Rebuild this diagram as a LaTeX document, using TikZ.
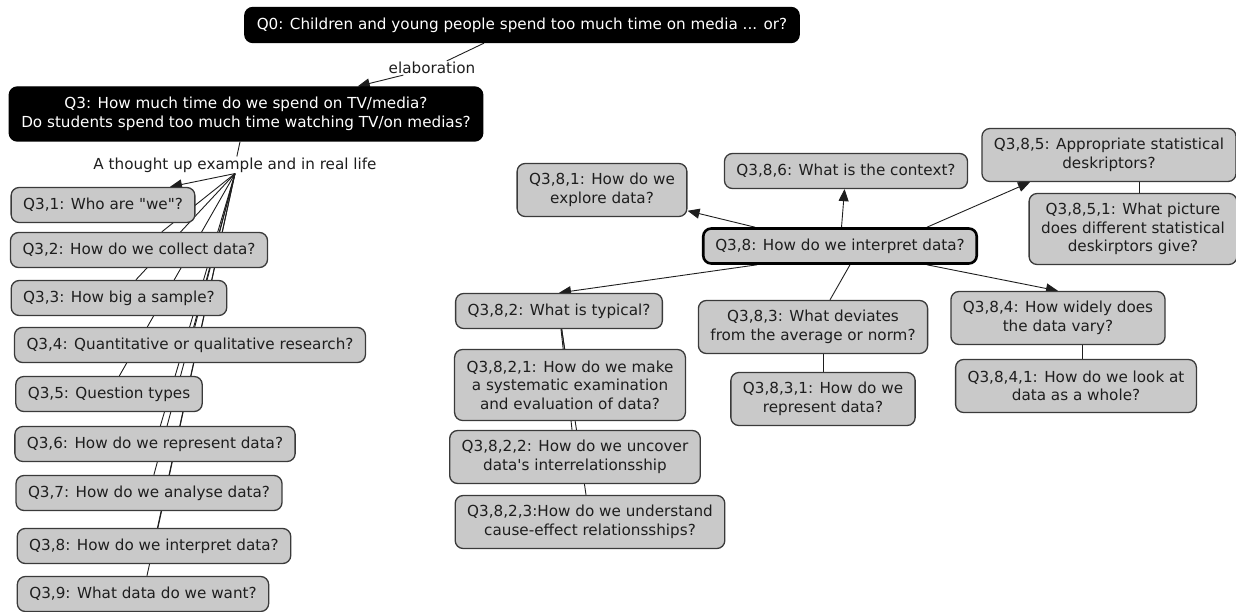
\documentclass[tikz,border=0pt]{standalone}
\usepackage{fontspec}
\setmainfont{DejaVu Sans}[Ligatures=TeXOff]
\usetikzlibrary{arrows.meta,backgrounds}
\definecolor{boxgray}{HTML}{C9C9C9}
\definecolor{boxline}{HTML}{3A3A3A}
\definecolor{txtgray}{HTML}{1E1E1E}

\begin{document}
\begin{tikzpicture}[
  x=1pt, y=-1pt,
  >={Triangle[length=12pt,width=10pt]},
  every node/.style={font=\fontsize{15.2}{18.5}\selectfont},
  concept/.style={draw=boxline,line width=1.3pt,fill=boxgray,text=txtgray,
                  rounded corners=8pt,inner xsep=12pt,inner ysep=1pt,
                  minimum height=35pt,align=center},
  twoline/.style={concept,minimum height=53pt},
  threeline/.style={concept,minimum height=71pt},
  topic/.style={concept,fill=black,draw=black,text=white},
  focus/.style={concept,draw=black,line width=2.6pt},
  linklbl/.style={inner sep=1pt,text=txtgray},
  link/.style={draw=txtgray,line width=0.9pt}
]
\useasboundingbox (0,0) rectangle (1236,612);

% top of the map
\node[topic]                    (q0) at (522,25) {Q0: Children and young people spend too much time on media ... or?};
\node[linklbl]                  (elab) at (432,68) {elaboration};
\node[topic,minimum height=54pt] (q3) at (246,114) {Q3: How much time do we spend on TV/media?\\Do students spend too much time watching TV/on medias?};
\node[linklbl]                  (thought) at (235,165) {A thought up example and in real life};

% left column
\node[concept] (q31)  at (103,205) {Q3,1: Who are "we"?};
\node[concept] (q32)  at (139,250) {Q3,2: How do we collect data?};
\node[concept] (q33)  at (119,298) {Q3,3: How big a sample?};
\node[concept] (q34)  at (190,345) {Q3,4: Quantitative or qualitative research?};
\node[concept] (q35)  at (109,394) {Q3,5: Question types};
\node[concept] (q36)  at (155,444) {Q3,6: How do we represent data?};
\node[concept] (q37)  at (149,493) {Q3,7: How do we analyse data?};
\node[concept] (q38l) at (154,546) {Q3,8: How do we interpret data?};
\node[concept] (q39)  at (143,594) {Q3,9: What data do we want?};

% interpreting data
\node[focus]     (q38)   at (840,246)  {Q3,8: How do we interpret data?};
\node[twoline]   (q381)  at (602,190)  {Q3,8,1: How do we\\explore data?};
\node[concept]   (q386)  at (846,171)  {Q3,8,6: What is the context?};
\node[twoline]   (q385)  at (1109,155) {Q3,8,5: Appropriate statistical\\deskriptors?};
\node[threeline] (q3851) at (1133,229) {Q3,8,5,1: What picture\\does different statistical\\deskirptors give?};
\node[twoline]   (q384)  at (1058,318) {Q3,8,4: How widely does\\the data vary?};
\node[twoline]   (q3841) at (1076,386) {Q3,8,4,1: How do we look at\\data as a whole?};
\node[concept]   (q382)  at (559,311)  {Q3,8,2: What is typical?};
\node[twoline]   (q383)  at (813,327)  {Q3,8,3: What deviates\\from the average or norm?};
\node[twoline]   (q3831) at (823,399)  {Q3,8,3,1: How do we\\represent data?};
\node[threeline] (q3821) at (570,385)  {Q3,8,2,1: How do we make\\a systematic examination\\and evaluation of data?};
\node[twoline]   (q3822) at (575,457)  {Q3,8,2,2: How do we uncover\\data's interrelationsship};
\node[twoline]   (q3823) at (590,522)  {Q3,8,2,3:How do we understand\\cause-effect relationsships?};

\begin{scope}[on background layer]
  \draw[link]    (q0) -- (elab);
  \draw[link,->] (elab) -- (q3);
  \draw[link]    (q3) -- (thought);
  \draw[link,->] (thought.south) -- ([xshift=67pt]q31.north);
  \foreach \q in {q32,q33,q34,q35,q36,q37,q38l,q39}
    \draw[link] (thought.south) -- (\q);

  \draw[link,->] ([xshift=-85pt]q38.north) -- (q381);
  \draw[link,->] (q38) -- (q386);
  \draw[link,->] ([xshift=87pt]q38.north) -- ([xshift=-79pt]q385.south);
  \draw[link,->] ([xshift=-83pt]q38.south) -- (q382.north);
  \draw[link]    ([xshift=10pt]q38.south) -- ([xshift=17pt]q383.north);
  \draw[link,->] ([xshift=87pt]q38.south) -- (q384.north);
  \draw[link]    ([xshift=6pt]q3851.north |- q385.south) -- ([xshift=6pt]q3851.north);
  \draw[link]    ([xshift=6pt]q3841.north |- q384.south) -- ([xshift=6pt]q3841.north);
  \draw[link]    (q3831.north |- q383.south) -- (q3831.north);
  \foreach \q in {q3821,q3822,q3823}
    \draw[link] (q382) -- (\q);
\end{scope}
\end{tikzpicture}
\end{document}
